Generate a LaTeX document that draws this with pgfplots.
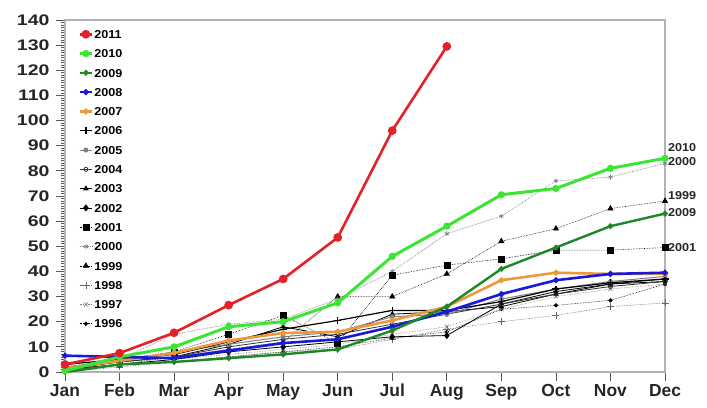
\documentclass[border=0pt]{standalone}
\usepackage{fontspec}
\setmainfont{Liberation Sans}
\newfontfamily\yfont{Liberation Sans}[FakeStretch=1.27]
\newfontfamily\lfont{Liberation Sans}[FakeStretch=1.1]
\usepackage{pgfplots}
\pgfplotsset{compat=1.18}

\definecolor{c2011}{RGB}{228,32,40}
\definecolor{c2010}{RGB}{58,230,50}
\definecolor{c2009}{RGB}{30,135,40}
\definecolor{c2008}{RGB}{25,25,220}
\definecolor{c2007}{RGB}{240,150,60}

\pgfplotstableread{
m y1996 y1997 y1998 y1999 y2000 y2001 y2002 y2003 y2004 y2005 y2006 y2007 y2008 y2009 y2010
0  1    1  0    1  1    2    1    2  1  2  3    1.5  6.5  0    0.5
1  3    3  2    3  5    5    3    4  4  4  5    4.5  6    3    6
2  4    5  4    6  15   8    5    6  6  8  7    7.5  5.5  4    10
3  6    7  6    9  19   15   8    11 10 11 12   12.5 8.5  5.5  18
4  8    9  8    12 21   22.5 10   18 13 14 17   15.5 11.5 7    20
5  10   11 9    30 29   11.5 12   14 15 16 20.5 16   13   9    27.5
6  13.5 15 13   30 40   38.5 14   23 19 22 24.5 20.5 18   16.5 46
7  16   18 17   39 55   42.5 14.5 24 23 23 24.5 26   24   26   58
8  25   25 20   52 62   45   27   26 27 29 28   36.5 31   41   70.5
9  26.5 30 22.5 57 76   48.5 32   31 31 33 33   39.5 36.5 49.5 73
10 28.5 33 26   65 77.5 48.5 35   35 34 36 35.5 39   39   58   81
11 35   35 27.5 68 83   49.5 36   37 36 38 37   39   39.5 63   85
}\data

\pgfplotstableread{
m y2011
0 3
1 7.5
2 15.6
3 26.6
4 37
5 53.5
6 96
7 129.5
}\datared

\begin{document}
\begin{tikzpicture}
\begin{axis}[
  at={(0,0)}, anchor=south west,
  width=600bp, height=352bp, scale only axis,
  xmin=0, xmax=11, ymin=0, ymax=140,
  xtick={0,...,11},
  xticklabels={Jan,Feb,Mar,Apr,May,Jun,Jul,Aug,Sep,Oct,Nov,Dec},
  ytick={0,10,...,140},
  minor y tick num=9,
  xtick pos=left, ytick pos=left,
  tick align=outside,
  major tick length=9bp, minor tick length=4bp,
  axis line style={draw=gray!60, line width=1.5bp},
  every tick/.style={gray!70!black, line width=0.8bp},
  xticklabel style={font=\fontsize{17.5}{20}\selectfont\bfseries, text=black!85,
    text height=12.5bp, text depth=3.5bp, yshift=1bp},
  yticklabel style={font=\yfont\fontsize{15.4}{18}\selectfont\bfseries, text=black!85,
    xshift=-3bp},
  /pgf/number format/assume math mode=true,
  clip mode=individual,
  legend cell align=left,
  reverse legend,
  legend style={at={(0.022,0.975)}, anchor=north west, draw=none, fill=none,
    inner sep=0pt, row sep=8.8bp,
    font=\lfont\fontsize{11.5}{13}\selectfont\bfseries,
    nodes={inner sep=1bp, text height=8.5bp, text depth=0bp}},
  legend image code/.code={\draw[mark repeat=2,mark phase=2] plot coordinates {(0bp,0bp) (6bp,0bp) (12bp,0bp)};},
]
\addplot[black, densely dotted, line width=0.6bp, mark=*, mark size=1.8bp, mark options={solid}] table[x=m,y=y1996] {\data};
\addlegendentry{1996}
\addplot[gray, densely dotted, line width=0.6bp, mark=x, mark size=3bp, mark options={solid}] table[x=m,y=y1997] {\data};
\addlegendentry{1997}
\addplot[gray!80!black, densely dotted, line width=0.6bp, mark=+, mark size=3.5bp, mark options={solid}] table[x=m,y=y1998] {\data};
\addlegendentry{1998}
\addplot[black, densely dotted, line width=0.6bp, mark=triangle*, mark size=3bp, mark options={solid}] table[x=m,y=y1999] {\data};
\addlegendentry{1999}
\addplot[gray, densely dotted, line width=0.7bp, mark=asterisk, mark size=2.5bp, mark options={solid}] table[x=m,y=y2000] {\data};
\addlegendentry{2000}
\addplot[black, densely dotted, line width=0.6bp, mark=square*, mark size=3bp, mark options={solid}] table[x=m,y=y2001] {\data};
\addlegendentry{2001}
\addplot[black, line width=0.8bp, mark=diamond*, mark size=3bp] table[x=m,y=y2002] {\data};
\addlegendentry{2002}
\addplot[black, line width=0.8bp, mark=triangle*, mark size=2.5bp] table[x=m,y=y2003] {\data};
\addlegendentry{2003}
\addplot[black!80, line width=0.8bp, mark=o, mark size=2bp] table[x=m,y=y2004] {\data};
\addlegendentry{2004}
\addplot[gray, line width=1bp, mark=*, mark size=2bp] table[x=m,y=y2005] {\data};
\addlegendentry{2005}
\addplot[black, line width=1.2bp, mark=+, mark size=3.5bp] table[x=m,y=y2006] {\data};
\addlegendentry{2006}
\addplot[c2007, line width=2.6bp, mark=*, mark size=1.5bp] table[x=m,y=y2007] {\data};
\addlegendentry{2007}
\addplot[c2008, line width=2.6bp, mark=*, mark size=1.5bp] table[x=m,y=y2008] {\data};
\addlegendentry{2008}
\addplot[c2009, line width=2.4bp, mark=*, mark size=1.5bp] table[x=m,y=y2009] {\data};
\addlegendentry{2009}
\addplot[c2010, line width=3bp, mark=*, mark size=2bp] table[x=m,y=y2010] {\data};
\addlegendentry{2010}
\addplot[c2011, line width=2.6bp, mark=*, mark size=3bp] table[x=m,y=y2011] {\datared};
\addlegendentry{2011}

\begin{scope}[every node/.style={anchor=west, inner sep=0pt, xshift=3bp,
    font=\lfont\fontsize{11.5}{13}\selectfont\bfseries, text=black!85}]
\node at (axis cs:11,89.3) {2010};
\node at (axis cs:11,83.7) {2000};
\node at (axis cs:11,70) {1999};
\node at (axis cs:11,63.5) {2009};
\node at (axis cs:11,49.6) {2001};
\end{scope}
\end{axis}
\pgfresetboundingbox
\path[use as bounding box] (-65bp,-36bp) rectangle (642bp,372bp);
\end{tikzpicture}
\end{document}
